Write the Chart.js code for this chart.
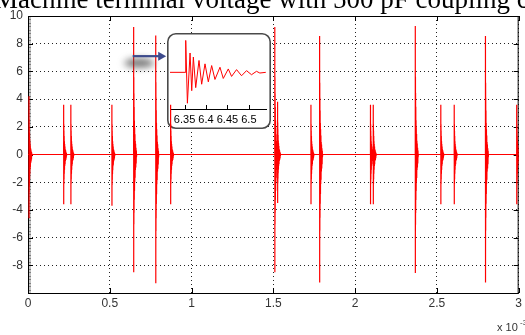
<!DOCTYPE html>
<html>
<head>
<meta charset="utf-8">
<script src="https://cdn.jsdelivr.net/npm/chart.js@4.4.0/dist/chart.umd.min.js"></script>
<style>
  html, body { margin: 0; padding: 0; background: #fff; }
  #wrap { position: relative; width: 525px; height: 335px; overflow: hidden; }
  #insetChart { position: absolute; left: -2000px; top: 0; }
</style>
</head>
<body>
<div id="wrap">
  <canvas id="voltageChart" width="525" height="335"></canvas>
</div>
<canvas id="insetChart" width="104" height="96"></canvas>
<script>
// switching events: time (x 1e-3 s), positive and negative peak of the surge
const spikeTimes = [0.006, 0.218, 0.262, 0.513, 0.646, 0.781, 0.872, 1.509, 1.526, 1.730, 1.783, 2.094, 2.111, 2.368, 2.524, 2.606, 2.797, 2.988];
const spikeHigh  = [4.2, 3.6, 3.6, 3.6, 9.2, 8.6, 3.6, 9.2, 3.8, 3.6, 8.55, 3.6, 3.6, 9.27, 3.6, 3.6, 8.55, 3.6];
const spikeLow   = [-4.6, -3.6, -3.6, -3.7, -8.5, -9.3, -3.6, -8.5, -3.5, -3.6, -9.25, -3.6, -3.6, -8.55, -3.6, -3.6, -9.25, -3.6];

// ringing after one event, zoomed (time x 1e-4 s)
const ringTimes  = [6.316, 6.351, 6.3527, 6.3566, 6.3628, 6.3667, 6.3705, 6.376, 6.3837, 6.3899, 6.3977, 6.4054, 6.4132, 6.4209, 6.4326, 6.4403, 6.452, 6.4597, 6.4713, 6.483, 6.4946, 6.5062, 6.5178, 6.5256, 6.5395];
const ringValues = [0, 0, 9.4, -9.1, 5.7, -5.4, 4.5, -4.5, 3.5, -3.5, 2.5, -2.8, 2.0, -2.1, 1.5, -1.8, 1.0, -1.2, 0.8, -1.0, 0.5, -0.7, 0.3, -0.2, 0];

const xTicks = [0, 0.5, 1, 1.5, 2, 2.5, 3];
const yTicks = [-10, -8, -6, -4, -2, 0, 2, 4, 6, 8, 10];
const insetTicks = [6.35, 6.4, 6.45, 6.5];

const titleText = 'Machine terminal voltage with 500 pF coupling capacitor';
const sansFont = '"Liberation Sans", Arial, sans-serif';

// where the zoom box and its pointer sit, in axis units
const insetAt = { x: 0.848, y: 8.8 };
const arrowFrom = { x: 0.64, y: 7.1 };
const arrowTo = { x: 0.845, y: 7.1 };
const shadowAt = { x: 0.68, y: 6.6 };

// every event rings like the zoomed one, scaled to its own peaks
const ringStart = ringValues.findIndex(v => v !== 0);
const ringMax = Math.max(...ringValues);
const ringMin = Math.min(...ringValues);
const mainPoints = [{ x: 0, y: 0 }, { x: 3, y: 0 }];
spikeTimes.forEach((t, i) => {
  for (let j = ringStart - 1; j < ringValues.length; j++) {
    const v = ringValues[j];
    const k = v >= 0 ? spikeHigh[i] / ringMax : spikeLow[i] / ringMin;
    mainPoints.push({ x: t + (ringTimes[j] - ringTimes[ringStart]) / 10, y: v * k });
  }
});
mainPoints.sort((a, b) => a.x - b.x);

function line(ctx, x1, y1, x2, y2) {
  ctx.beginPath();
  ctx.moveTo(x1, y1);
  ctx.lineTo(x2, y2);
  ctx.stroke();
}

function roundRect(ctx, x, y, w, h, r) {
  ctx.beginPath();
  ctx.moveTo(x + r, y);
  ctx.arcTo(x + w, y, x + w, y + h, r);
  ctx.arcTo(x + w, y + h, x, y + h, r);
  ctx.arcTo(x, y + h, x, y, r);
  ctx.arcTo(x, y, x + w, y, r);
  ctx.closePath();
}

// ---- zoomed ringing, drawn off screen and pasted into the main axes ----
const insetCanvas = document.getElementById('insetChart');

const insetFrame = {
  id: 'insetFrame',
  beforeDraw(chart) {
    const ctx = chart.ctx;
    ctx.save();
    ctx.fillStyle = '#fff';
    roundRect(ctx, 0.75, 0.75, chart.width - 1.5, chart.height - 1.5, 8);
    ctx.fill();
    ctx.restore();
  },
  afterDraw(chart) {
    const ctx = chart.ctx;
    const x = chart.scales.x;
    const bottom = chart.chartArea.bottom;
    ctx.save();
    ctx.strokeStyle = '#000';
    ctx.lineWidth = 1;
    insetTicks.forEach(v => {
      const px = Math.round(x.getPixelForValue(v)) + 0.5;
      line(ctx, px, bottom, px, bottom - 4);
    });
    ctx.strokeStyle = '#4a4a4a';
    ctx.lineWidth = 1.6;
    roundRect(ctx, 0.8, 0.8, chart.width - 1.6, chart.height - 1.6, 8);
    ctx.stroke();
    ctx.restore();
  }
};

new Chart(insetCanvas, {
  type: 'line',
  data: {
    datasets: [{
      data: ringTimes.map((t, i) => ({ x: t, y: ringValues[i] })),
      borderColor: '#ff0000',
      borderWidth: 1,
      pointRadius: 0,
      tension: 0
    }]
  },
  options: {
    responsive: false,
    animation: false,
    devicePixelRatio: 1,
    events: [],
    layout: { padding: { left: 3, right: 5, top: 2, bottom: 0 } },
    plugins: { legend: { display: false }, tooltip: { enabled: false } },
    scales: {
      x: {
        type: 'linear',
        min: 6.316,
        max: 6.54,
        afterBuildTicks: s => { s.ticks = insetTicks.map(v => ({ value: v })); },
        afterFit: s => { s.height = 20; },
        grid: { display: false, drawTicks: false },
        border: { display: true, color: '#000', width: 1 },
        ticks: {
          padding: 4,
          color: '#000',
          font: { family: sansFont, size: 11 },
          maxRotation: 0,
          autoSkip: false,
          callback: v => v
        }
      },
      y: { display: false, min: -10.8, max: 11 }
    }
  },
  plugins: [insetFrame]
});

// ---- main axes ----
const axesDecor = {
  id: 'axesDecor',
  beforeDatasetsDraw(chart) {
    const ctx = chart.ctx;
    const { left, right, top, bottom } = chart.chartArea;
    const x = chart.scales.x, y = chart.scales.y;

    ctx.drawImage(insetCanvas,
      Math.round(x.getPixelForValue(insetAt.x)),
      Math.round(y.getPixelForValue(insetAt.y)));

    ctx.save();
    // minor ticks on the left edge
    ctx.fillStyle = '#c4c4c4';
    ctx.fillRect(left, top, 3, bottom - top);
    ctx.strokeStyle = '#808080';
    ctx.lineWidth = 1;
    for (let v = -10; v <= 10; v += 0.25) {
      const py = Math.round(y.getPixelForValue(v)) + 0.5;
      line(ctx, left, py, left + 3, py);
    }
    // box and inward ticks
    ctx.strokeStyle = '#000';
    xTicks.forEach(v => {
      const px = Math.round(x.getPixelForValue(v)) + 0.5;
      line(ctx, px, bottom, px, bottom - 5);
      line(ctx, px, top, px, top + 5);
    });
    yTicks.forEach(v => {
      const py = Math.round(y.getPixelForValue(v)) + 0.5;
      line(ctx, left, py, left + 5, py);
      line(ctx, right, py, right - 5, py);
    });
    ctx.strokeRect(left + 0.5, top + 0.5, right - left - 1, bottom - top);
    ctx.restore();
  },
  afterDatasetsDraw(chart) {
    const ctx = chart.ctx;
    const x = chart.scales.x, y = chart.scales.y;
    const sx = x.getPixelForValue(shadowAt.x), sy = y.getPixelForValue(shadowAt.y);
    const x1 = x.getPixelForValue(arrowFrom.x), x2 = x.getPixelForValue(arrowTo.x);
    const ay = y.getPixelForValue(arrowFrom.y);

    ctx.save();
    ctx.filter = 'blur(3.5px)';
    ctx.fillStyle = 'rgba(70,70,70,0.75)';
    ctx.beginPath();
    ctx.ellipse(sx, sy, 15, 4.5, 0, 0, Math.PI * 2);
    ctx.fill();
    ctx.restore();

    ctx.save();
    ctx.strokeStyle = '#3d4a8c';
    ctx.fillStyle = '#3d4a8c';
    ctx.lineWidth = 2.2;
    line(ctx, x1, ay, x2 - 6, ay);
    ctx.beginPath();
    ctx.moveTo(x2 - 8, ay - 4.5);
    ctx.lineTo(x2, ay);
    ctx.lineTo(x2 - 8, ay + 4.5);
    ctx.closePath();
    ctx.fill();
    ctx.restore();
  },
  afterDraw(chart) {
    const ctx = chart.ctx;
    ctx.save();
    ctx.fillStyle = '#000';
    ctx.textBaseline = 'alphabetic';
    ctx.font = '27px "Liberation Serif", "Times New Roman", serif';
    ctx.fillText(titleText, -6, 8);
    ctx.fillStyle = '#333';
    ctx.font = '11px ' + sansFont;
    ctx.fillText('x 10', 497, 331);
    ctx.font = '8px ' + sansFont;
    ctx.fillText('-3', 520, 325);
    ctx.restore();
  }
};

const gridStyle = { color: '#222', lineWidth: 1, drawTicks: false };
const tickFont = { family: sansFont, size: 12 };

new Chart(document.getElementById('voltageChart'), {
  type: 'line',
  data: {
    datasets: [{
      data: mainPoints,
      borderColor: '#ff0000',
      borderWidth: 1.2,
      pointRadius: 0,
      tension: 0.0001
    }]
  },
  options: {
    responsive: false,
    animation: false,
    devicePixelRatio: 1,
    events: [],
    layout: { padding: { left: 0, right: 5, top: 16, bottom: 0 } },
    plugins: { legend: { display: false }, tooltip: { enabled: false } },
    scales: {
      x: {
        type: 'linear',
        min: 0,
        max: 3,
        afterBuildTicks: s => { s.ticks = xTicks.map(v => ({ value: v })); },
        afterFit: s => { s.height = 42; },
        grid: gridStyle,
        border: { display: false, dash: [1, 3] },
        ticks: { padding: 3, color: '#333', font: tickFont, maxRotation: 0, autoSkip: false, callback: v => v }
      },
      y: {
        min: -10,
        max: 10,
        afterBuildTicks: s => { s.ticks = yTicks.map(v => ({ value: v })); },
        afterFit: s => { s.width = 28; },
        grid: gridStyle,
        border: { display: false, dash: [1, 3] },
        ticks: { padding: 5, color: '#333', font: tickFont, autoSkip: false, callback: v => (v === -10 ? '' : v) }
      }
    }
  },
  plugins: [axesDecor]
});
</script>
</body>
</html>
